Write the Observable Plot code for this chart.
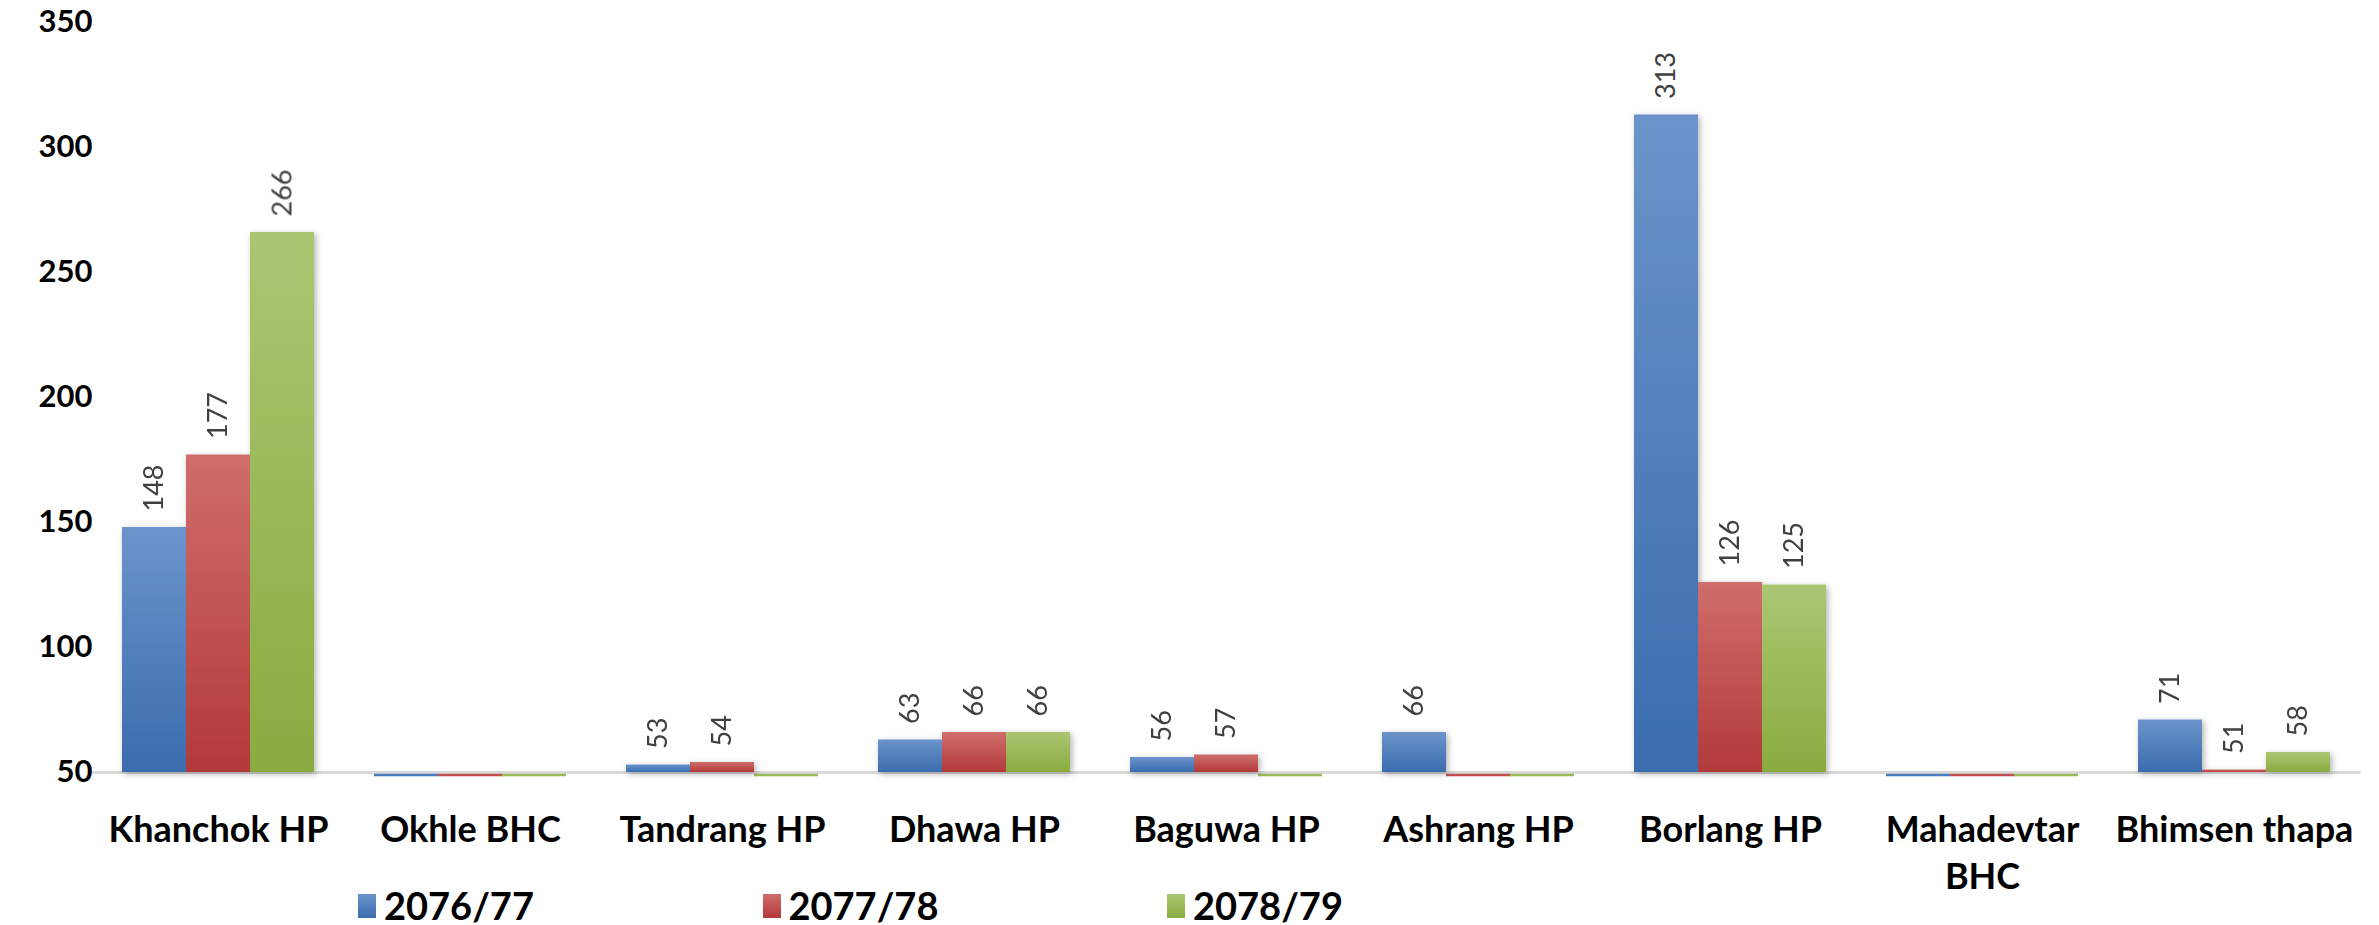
<!DOCTYPE html>
<html>
<head>
<meta charset="utf-8">
<script src="https://cdn.jsdelivr.net/npm/d3@7"></script>
<script src="https://cdn.jsdelivr.net/npm/@observablehq/plot@0.6"></script>
<style>
  html, body { margin: 0; padding: 0; background: #fff; overflow: hidden; }
  #chart svg { display: block; }
  #legend { position: relative; display: flex; align-items: center; padding-left: 358px; height: 38px; margin-top: -14px;
            font-family: Lato, sans-serif; font-weight: bold; font-size: 38px; line-height: 1; color: #000; }
  .item { display: flex; align-items: center; width: 404.5px; }
  .sw { width: 18px; height: 24px; margin-right: 8px; margin-top: 2px; }
</style>
</head>
<body>
<div id="chart"></div>
<div id="legend"></div>
<script>
// ---- data ----
const categories = ["Khanchok HP", "Okhle BHC", "Tandrang HP", "Dhawa HP", "Baguwa HP",
                    "Ashrang HP", "Borlang HP", "Mahadevtar BHC", "Bhimsen thapa"];
const series = ["2076/77", "2077/78", "2078/79"];
const values2076 = [148, 0, 53, 63, 56, 66, 313, 0, 71];
const values2077 = [177, 0, 54, 66, 57, 0, 126, 0, 51];
const values2078 = [266, 0, 0, 66, 0, 0, 125, 0, 58];
const yTicks = [50, 100, 150, 200, 250, 300, 350];

// ---- styles ----
const gradTop = ["#6b94ca", "#cf6e6b", "#abc672"];
const gradBottom = ["#3a6cae", "#b3393a", "#8aab40"];
const solid = ["#4a7dbf", "#c0504d", "#9bbb59"];

const seriesValues = [values2076, values2077, values2078];
const rows = [];
categories.forEach((c, ci) => {
  series.forEach((s, si) => rows.push({category: c, series: s, si, value: seriesValues[si][ci]}));
});
const shown = rows.filter(d => d.value >= 50);

const W = 2379, H = 900;
const marginTop = 22, marginBottom = H - 772, marginLeft = 92, marginRight = 19;
const padInner = 0.24, padOuter = 0.12;
const step = (W - marginLeft - marginRight) / (categories.length - padInner + 2 * padOuter);
const gapHalf = step * padInner / 2 + 0.5;

const chart = Plot.plot({
  width: W, height: H,
  marginTop, marginBottom, marginLeft, marginRight,
  style: {fontFamily: "Lato, sans-serif", background: "transparent", color: "#000", overflow: "visible"},
  fx: {domain: categories, paddingInner: padInner, paddingOuter: padOuter, label: null},
  x: {domain: series, padding: 0, axis: null},
  y: {domain: [50, 350], label: null},
  color: {domain: series, range: series.map((_, i) => `url(#grad${i})`)},
  marks: [
    Plot.ruleY([50], {stroke: "#d9d9d9", strokeWidth: 3, insetLeft: -gapHalf, insetRight: -gapHalf}),
    ...series.map((s, i) => Plot.tickY(rows.filter(d => d.series === s && d.value < 50),
      {fx: "category", x: "series", y: () => 50, stroke: solid[i], strokeWidth: 2.5, dy: 2.5})),
    Plot.barY(shown, {fx: "category", x: "series", y1: 50, y2: "value", fill: "series"}),
    Plot.text(shown, {fx: "category", x: "series", y: "value", text: d => String(d.value),
      rotate: -90, textAnchor: "start", dy: -16, fontSize: 27, fill: "#404040"}),
    Plot.axisY({ticks: yTicks, tickSize: 0, tickPadding: 30, textAnchor: "end",
      fontSize: 31, fontWeight: "bold", fill: "#000"}),
    Plot.axisFx({anchor: "bottom", tickSize: 0, tickPadding: 36, fontSize: 36, fontWeight: "bold", fill: "#000",
      lineHeight: 1.3, tickFormat: d => d.replace("Mahadevtar ", "Mahadevtar\n")})
  ]
});

// gradients + shadow
const ns = "http://www.w3.org/2000/svg";
const defs = document.createElementNS(ns, "defs");
series.forEach((s, i) => {
  const g = document.createElementNS(ns, "linearGradient");
  g.setAttribute("id", `grad${i}`);
  g.setAttribute("x1", "0"); g.setAttribute("y1", "0");
  g.setAttribute("x2", "0"); g.setAttribute("y2", "1");
  [[0, gradTop[i]], [1, gradBottom[i]]].forEach(([o, c]) => {
    const st = document.createElementNS(ns, "stop");
    st.setAttribute("offset", o); st.setAttribute("stop-color", c);
    g.appendChild(st);
  });
  defs.appendChild(g);
});
const f = document.createElementNS(ns, "filter");
f.setAttribute("id", "shadow");
f.setAttribute("x", "-20%"); f.setAttribute("y", "-5%");
f.setAttribute("width", "140%"); f.setAttribute("height", "110%");
const ds = document.createElementNS(ns, "feDropShadow");
ds.setAttribute("dx", "2"); ds.setAttribute("dy", "2");
ds.setAttribute("stdDeviation", "3"); ds.setAttribute("flood-color", "#000");
ds.setAttribute("flood-opacity", "0.3");
f.appendChild(ds);
defs.appendChild(f);
chart.insertBefore(defs, chart.firstChild);
chart.querySelectorAll('g[aria-label="bar"]').forEach(g => g.setAttribute("filter", "url(#shadow)"));

document.getElementById("chart").appendChild(chart);

// legend
const legend = document.getElementById("legend");
series.forEach((s, i) => {
  const item = document.createElement("div");
  item.className = "item";
  const sw = document.createElement("div");
  sw.className = "sw";
  sw.style.background = `linear-gradient(${gradTop[i]}, ${gradBottom[i]})`;
  const t = document.createElement("span");
  t.textContent = s;
  item.appendChild(sw); item.appendChild(t);
  legend.appendChild(item);
});
</script>
</body>
</html>
